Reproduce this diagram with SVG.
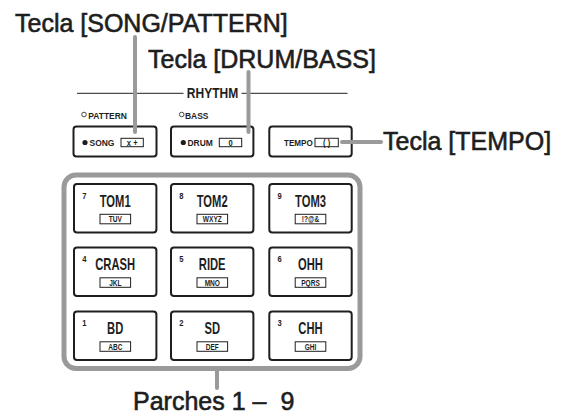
<svg xmlns="http://www.w3.org/2000/svg" width="564" height="416" viewBox="0 0 564 416">
  <style>
    .big { font-family: "Liberation Sans", Arial, sans-serif; font-size: 25px; fill: #1e1e1e; stroke: #1e1e1e; stroke-width: 0.6; }
    .cond { font-family: "Liberation Sans", Arial, sans-serif; font-weight: bold; fill: #1e1e1e; }
    .lbl { font-size: 16.5px; }
    .tx { font-size: 8.4px; }
    .key { fill: #fff; stroke: #1e1e1e; stroke-width: 2; }
    .tag { fill: #fff; stroke: #1e1e1e; stroke-width: 1; }
    .lead { fill: none; stroke: #9a9a9a; stroke-width: 4; stroke-linecap: round; }
    .rule { stroke: #1e1e1e; stroke-width: 1; }
  </style>

  <!-- labels -->
  <g id="label-song-pattern"><text class="big" x="15" y="32">Tecla [SONG/PATTERN]</text></g>
  <g id="label-drum-bass"><text class="big" x="148" y="68">Tecla [DRUM/BASS]</text></g>
  <g id="label-tempo"><text class="big" x="383" y="150">Tecla [TEMPO]</text></g>
  <g id="label-pads"><text class="big" x="133" y="410">Parches 1 –<tspan dx="14">9</tspan></text></g>

  <!-- RHYTHM section header -->
  <g id="rhythm-header">
    <line class="rule" x1="77" y1="93.3" x2="183.5" y2="93.3"/>
    <line class="rule" x1="241.5" y1="93.3" x2="347.5" y2="93.3"/>
    <text class="cond" font-size="14" text-anchor="middle" transform="translate(212.5 98.3) scale(0.86 1)">RHYTHM</text>
    <circle cx="84" cy="114.5" r="2.3" fill="#fff" stroke="#1e1e1e" stroke-width="0.8"/>
    <text class="cond" font-size="9.6" transform="translate(88.3 118.5) scale(0.88 1)">PATTERN</text>
    <circle cx="181.7" cy="114.5" r="2.3" fill="#fff" stroke="#1e1e1e" stroke-width="0.8"/>
    <text class="cond" font-size="9.6" transform="translate(185 118.5) scale(0.88 1)">BASS</text>
  </g>

  <!-- keys -->
  <g id="key-song">
    <rect class="key" x="73.5" y="126.5" width="83" height="30" rx="3"/>
    <circle cx="85" cy="142.5" r="2.6" fill="#1e1e1e"/>
    <text class="cond" font-size="9.6" transform="translate(89.5 146) scale(0.88 1)">SONG</text>
    <rect class="tag" x="121" y="138.3" width="22.3" height="8.4"/>
    <text class="cond tx" text-anchor="middle" transform="translate(132.2 145.5) scale(0.9 1)">x +</text>
  </g>
  <g id="key-drum">
    <rect class="key" x="171" y="126.5" width="82.4" height="30" rx="3"/>
    <circle cx="183.3" cy="142.5" r="2.6" fill="#1e1e1e"/>
    <text class="cond" font-size="9.6" transform="translate(187.5 146) scale(0.88 1)">DRUM</text>
    <rect class="tag" x="219.3" y="138.3" width="22.4" height="8.4"/>
    <text class="cond tx" text-anchor="middle" transform="translate(230.5 145.5) scale(0.9 1)">0</text>
  </g>
  <g id="key-tempo">
    <rect class="key" x="269.3" y="126.5" width="82.4" height="30" rx="3"/>
    <text class="cond" font-size="9.6" transform="translate(284 146) scale(0.84 1)">TEMPO</text>
    <rect class="tag" x="315" y="138.3" width="23.3" height="8.4"/>
    <text class="cond tx" text-anchor="middle" transform="translate(326.6 145.5) scale(0.9 1)">( )</text>
  </g>

  <!-- pad block frame -->
  <g id="pad-frame">
    <rect x="64" y="175" width="296" height="193.5" rx="12" fill="none" stroke="#9a9a9a" stroke-width="5"/>
  </g>

  <!-- pads: number, name, letter tag -->
  <g id="pad-7">
    <rect class="key" x="74" y="184" width="82.4" height="48.5" rx="3"/>
    <text class="cond" font-size="9.5" transform="translate(82.3 198.5) scale(0.8 1)">7</text>
    <text class="cond lbl" text-anchor="middle" transform="translate(115.2 206.8) scale(0.68 1)">TOM1</text>
    <rect class="tag" x="100" y="214.3" width="30.6" height="9.5"/>
    <text class="cond tx" text-anchor="middle" transform="translate(115.3 222) scale(0.78 1)">TUV</text>
  </g>
  <g id="pad-8">
    <rect class="key" x="171" y="184" width="82.4" height="48.5" rx="3"/>
    <text class="cond" font-size="9.5" transform="translate(179.3 198.5) scale(0.8 1)">8</text>
    <text class="cond lbl" text-anchor="middle" transform="translate(212.2 206.8) scale(0.68 1)">TOM2</text>
    <rect class="tag" x="197" y="214.3" width="30.6" height="9.5"/>
    <text class="cond tx" text-anchor="middle" transform="translate(212.3 222) scale(0.78 1)">WXYZ</text>
  </g>
  <g id="pad-9">
    <rect class="key" x="269.3" y="184" width="82.4" height="48.5" rx="3"/>
    <text class="cond" font-size="9.5" transform="translate(277.6 198.5) scale(0.8 1)">9</text>
    <text class="cond lbl" text-anchor="middle" transform="translate(310.5 206.8) scale(0.68 1)">TOM3</text>
    <rect class="tag" x="295.2" y="214.3" width="30.6" height="9.5"/>
    <text class="cond tx" text-anchor="middle" transform="translate(310.5 222) scale(0.78 1)">!?@&amp;</text>
  </g>

  <g id="pad-4">
    <rect class="key" x="74" y="247.5" width="82.4" height="48.5" rx="3"/>
    <text class="cond" font-size="9.5" transform="translate(82.3 262) scale(0.8 1)">4</text>
    <text class="cond lbl" text-anchor="middle" transform="translate(115.2 270.3) scale(0.68 1)">CRASH</text>
    <rect class="tag" x="100" y="277.8" width="30.6" height="9.5"/>
    <text class="cond tx" text-anchor="middle" transform="translate(115.3 285.5) scale(0.78 1)">JKL</text>
  </g>
  <g id="pad-5">
    <rect class="key" x="171" y="247.5" width="82.4" height="48.5" rx="3"/>
    <text class="cond" font-size="9.5" transform="translate(179.3 262) scale(0.8 1)">5</text>
    <text class="cond lbl" text-anchor="middle" transform="translate(212.2 270.3) scale(0.68 1)">RIDE</text>
    <rect class="tag" x="197" y="277.8" width="30.6" height="9.5"/>
    <text class="cond tx" text-anchor="middle" transform="translate(212.3 285.5) scale(0.78 1)">MNO</text>
  </g>
  <g id="pad-6">
    <rect class="key" x="269.3" y="247.5" width="82.4" height="48.5" rx="3"/>
    <text class="cond" font-size="9.5" transform="translate(277.6 262) scale(0.8 1)">6</text>
    <text class="cond lbl" text-anchor="middle" transform="translate(310.5 270.3) scale(0.68 1)">OHH</text>
    <rect class="tag" x="295.2" y="277.8" width="30.6" height="9.5"/>
    <text class="cond tx" text-anchor="middle" transform="translate(310.5 285.5) scale(0.78 1)">PQRS</text>
  </g>

  <g id="pad-1">
    <rect class="key" x="74" y="311.5" width="82.4" height="48.5" rx="3"/>
    <text class="cond" font-size="9.5" transform="translate(82.3 326) scale(0.8 1)">1</text>
    <text class="cond lbl" text-anchor="middle" transform="translate(115.2 334.3) scale(0.68 1)">BD</text>
    <rect class="tag" x="100" y="341.8" width="30.6" height="9.5"/>
    <text class="cond tx" text-anchor="middle" transform="translate(115.3 349.5) scale(0.78 1)">ABC</text>
  </g>
  <g id="pad-2">
    <rect class="key" x="171" y="311.5" width="82.4" height="48.5" rx="3"/>
    <text class="cond" font-size="9.5" transform="translate(179.3 326) scale(0.8 1)">2</text>
    <text class="cond lbl" text-anchor="middle" transform="translate(212.2 334.3) scale(0.68 1)">SD</text>
    <rect class="tag" x="197" y="341.8" width="30.6" height="9.5"/>
    <text class="cond tx" text-anchor="middle" transform="translate(212.3 349.5) scale(0.78 1)">DEF</text>
  </g>
  <g id="pad-3">
    <rect class="key" x="269.3" y="311.5" width="82.4" height="48.5" rx="3"/>
    <text class="cond" font-size="9.5" transform="translate(277.6 326) scale(0.8 1)">3</text>
    <text class="cond lbl" text-anchor="middle" transform="translate(310.5 334.3) scale(0.68 1)">CHH</text>
    <rect class="tag" x="295.2" y="341.8" width="30.6" height="9.5"/>
    <text class="cond tx" text-anchor="middle" transform="translate(310.5 349.5) scale(0.78 1)">GHI</text>
  </g>

  <!-- leader lines -->
  <g id="connectors">
    <line class="lead" x1="135" y1="37" x2="135" y2="132"/>
    <line class="lead" x1="248.5" y1="72" x2="248.5" y2="132"/>
    <line class="lead" x1="342" y1="142" x2="381" y2="142"/>
    <line class="lead" x1="217" y1="371" x2="217" y2="388"/>
  </g>
</svg>
